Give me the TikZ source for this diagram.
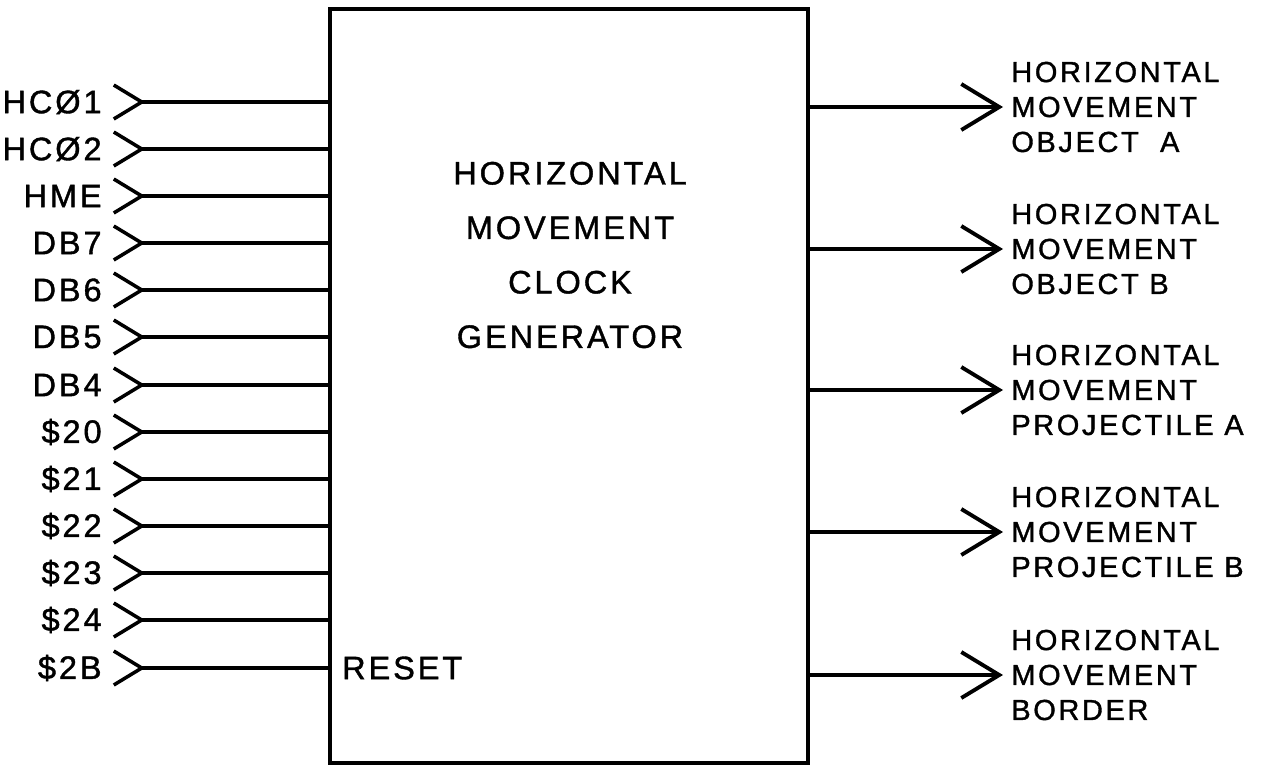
\documentclass[tikz,border=0pt]{standalone}
\usepackage{fontspec}
\setmainfont{Liberation Sans}[LetterSpace=9, FakeBold=1.2]
\usetikzlibrary{arrows.meta,positioning}

\begin{document}
\begin{tikzpicture}[
  x=0.02cm, y=-0.02cm,
  block/.style={draw, line width=2.2pt, minimum width=9.56cm, minimum height=15.08cm},
  title/.style={align=center, font=\fontsize{18.5}{31}\selectfont},
  inlabel/.style={anchor=east, inner xsep=0.2cm, font=\fontsize{18.5}{20}\selectfont},
  outlabel/.style={anchor=west, inner xsep=0.16cm, align=left, font=\fontsize{16.5}{19.9}\selectfont},
  pin/.style={{Straight Barb[reversed, length=0.56cm, width=0.68cm]}-, line width=2pt},
  outedge/.style={-{Straight Barb[length=0.76cm, width=0.92cm]}, line width=2.2pt}
]
  \useasboundingbox (0,0) rectangle (1280,768);
  \node[block] (gen) at (569,386) {};
  \node[title] (name) at (570,255) {HORIZONTAL\\MOVEMENT\\CLOCK\\GENERATOR};
  \node[anchor=west, font=\fontsize{18.5}{20}\selectfont] (reset) at (336,668) {RESET};

  % inputs
  \node[inlabel] (hco1) at (112,102) {HCØ1};
  \node[inlabel] (hco2) at (112,149) {HCØ2};
  \node[inlabel] (hme) at (112,196) {HME};
  \node[inlabel] (db7) at (112,243) {DB7};
  \node[inlabel] (db6) at (112,290) {DB6};
  \node[inlabel] (db5) at (112,337) {DB5};
  \node[inlabel] (db4) at (112,385) {DB4};
  \node[inlabel] (s20) at (112,432) {\$20};
  \node[inlabel] (s21) at (112,479) {\$21};
  \node[inlabel] (s22) at (112,526) {\$22};
  \node[inlabel] (s23) at (112,573) {\$23};
  \node[inlabel] (s24) at (112,620) {\$24};
  \node[inlabel] (s2b) at (112,668) {\$2B};
  \draw[pin] (hco1.east) -- (hco1.east -| gen.west);
  \draw[pin] (hco2.east) -- (hco2.east -| gen.west);
  \draw[pin] (hme.east) -- (hme.east -| gen.west);
  \draw[pin] (db7.east) -- (db7.east -| gen.west);
  \draw[pin] (db6.east) -- (db6.east -| gen.west);
  \draw[pin] (db5.east) -- (db5.east -| gen.west);
  \draw[pin] (db4.east) -- (db4.east -| gen.west);
  \draw[pin] (s20.east) -- (s20.east -| gen.west);
  \draw[pin] (s21.east) -- (s21.east -| gen.west);
  \draw[pin] (s22.east) -- (s22.east -| gen.west);
  \draw[pin] (s23.east) -- (s23.east -| gen.west);
  \draw[pin] (s24.east) -- (s24.east -| gen.west);
  \draw[pin] (s2b.east) -- (s2b.east -| gen.west);

  % outputs
  \node[outlabel] (obja) at (1003,107) {HORIZONTAL\\MOVEMENT\\OBJECT\ \ A};
  \node[outlabel] (objb) at (1003,249) {HORIZONTAL\\MOVEMENT\\OBJECT B};
  \node[outlabel] (proja) at (1003,390) {HORIZONTAL\\MOVEMENT\\PROJECTILE A};
  \node[outlabel] (projb) at (1003,532) {HORIZONTAL\\MOVEMENT\\PROJECTILE B};
  \node[outlabel] (border) at (1003,675) {HORIZONTAL\\MOVEMENT\\BORDER};
  \draw[outedge] (obja.west -| gen.east) -- (obja.west);
  \draw[outedge] (objb.west -| gen.east) -- (objb.west);
  \draw[outedge] (proja.west -| gen.east) -- (proja.west);
  \draw[outedge] (projb.west -| gen.east) -- (projb.west);
  \draw[outedge] (border.west -| gen.east) -- (border.west);
\end{tikzpicture}
\end{document}
